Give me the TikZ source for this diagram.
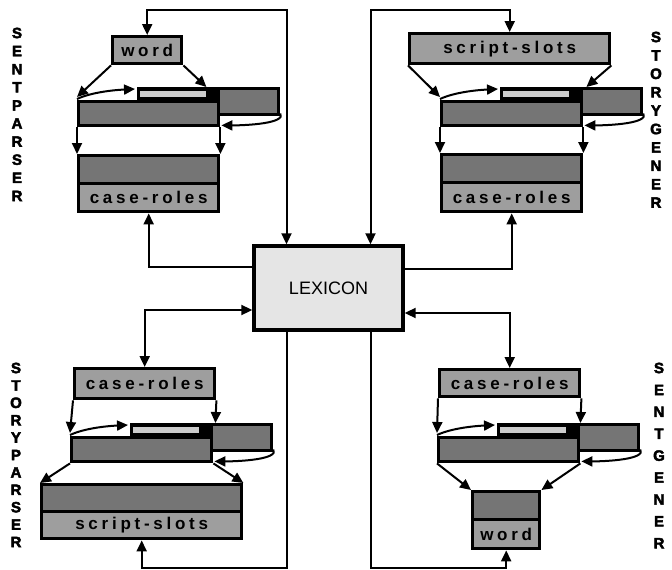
\documentclass[tikz,border=0pt]{standalone}
\usepackage{fontspec}
\setmainfont{Liberation Sans}
\newfontfamily\boxfont{Liberation Sans}[LetterSpace=22]
\newfontfamily\heavyfont{Liberation Sans}[FakeBold=3]
\usetikzlibrary{arrows.meta,calc}
\definecolor{shadeA}{gray}{0.46}
\definecolor{shadeB}{gray}{0.62}
\definecolor{lexfill}{gray}{0.9}
\definecolor{dotfill}{gray}{0.8}
\tikzset{
  blk/.style={draw, line width=3.4pt, inner sep=0pt, anchor=north west, fill=shadeA},
  txtbox/.style={blk, fill=shadeB, font=\boxfont\bfseries\fontsize{17}{17}\selectfont},
  dotbox/.style={inner sep=0pt, anchor=north west, fill=dotfill},
  conn/.style={line width=2pt},
  lbl/.style={font=\heavyfont\bfseries\fontsize{15}{15}\selectfont, inner sep=0pt},
  lexbox/.style={draw, line width=3.4pt, fill=lexfill, inner sep=0pt, font=\fontsize{18}{18}\selectfont},
  >={Triangle[length=11pt,width=10pt]}
}
% hidden-layer row: prefix, x, y (top-left)
\newcommand\hidrow[3]{%
  \node[blk, fill=black, minimum width=80pt, minimum height=13pt] (#1strip) at (#2+60,#3) {};
  \node[dotbox, minimum width=66pt, minimum height=6pt] (#1dots) at (#2+63,#3+3.5) {};
  \node[blk, minimum width=140pt, minimum height=24pt] (#1hid) at (#2,#3+13) {};
  \node[blk, minimum width=60pt, minimum height=26pt] (#1ctx) at (#2+140,#3) {};
  \draw[conn,->] ($(#1hid.north west)+(0,-1)$) .. controls +(15,-7) and +(-20,1) .. ($(#1strip.north west)+(-2,2)$);
  \draw[conn,->] ($(#1ctx.south east)+(0,-3)$) .. controls +(6,10) and +(25,0) .. ($(#1hid.south east)+(1,-2)$);
}
\begin{document}
\begin{tikzpicture}[x=1pt,y=-1pt]
\useasboundingbox (0,0) rectangle (672,570);

% ---------- LEXICON ----------
\node[lexbox, minimum width=149pt, minimum height=84pt] (lex) at (328.5,288) {LEXICON};

% ---------- SENT PARSER (top left) ----------
\node[txtbox, minimum width=69pt, minimum height=27pt] (spin) at (111,35) {word};
\hidrow{sp}{77}{87}
\node[blk, minimum width=140pt, minimum height=28pt] (spoutA) at (77,154) {};
\node[txtbox, minimum width=140pt, minimum height=28pt] (spoutB) at (77,182) {case-roles};
\draw[conn,->] (spin.south west) -- ($(sphid.north west)+(0,-3)$);
\draw[conn,->] (spin.south east) -- ($(spstrip.north east)+(-14,0)$);
\draw[conn,->] (sphid.south west) -- (spoutA.north west);
\draw[conn,->] (sphid.south east) -- (spoutA.north east);

% ---------- STORY GENER (top right) ----------
\node[txtbox, minimum width=200pt, minimum height=30pt] (sgin) at (408,32) {script-slots};
\hidrow{sg}{440}{87}
\node[blk, minimum width=140pt, minimum height=28pt] (sgoutA) at (440,153) {};
\node[txtbox, minimum width=140pt, minimum height=29pt] (sgoutB) at (440,181) {case-roles};
\draw[conn,->] (sgin.south west) -- ($(sghid.north west)+(0,-3)$);
\draw[conn,->] (sgin.south east) -- ($(sgstrip.north east)+(3,0)$);
\draw[conn,->] (sghid.south west) -- (sgoutA.north west);
\draw[conn,->] (sghid.south east) -- (sgoutA.north east);

% ---------- STORY PARSER (bottom left) ----------
\node[txtbox, minimum width=140pt, minimum height=30pt] (stpin) at (73,367) {case-roles};
\hidrow{stp}{70}{423}
\node[blk, minimum width=200pt, minimum height=27pt] (stpoutA) at (40,483) {};
\node[txtbox, minimum width=200pt, minimum height=27pt] (stpoutB) at (40,510) {script-slots};
\draw[conn,->] (stpin.south west) -- ($(stphid.north west)+(0,-3)$);
\draw[conn,->] (stpin.south east) -- ($(stpstrip.north east)+(2,0)$);
\draw[conn,->] (stphid.south west) -- (stpoutA.north west);
\draw[conn,->] (stphid.south east) -- (stpoutA.north east);

% ---------- SENT GENER (bottom right) ----------
\node[txtbox, minimum width=140pt, minimum height=27pt] (sgnin) at (438,368) {case-roles};
\hidrow{sgn}{437}{423}
\node[blk, minimum width=67pt, minimum height=28pt] (sgnoutA) at (471,490) {};
\node[txtbox, minimum width=67pt, minimum height=29pt] (sgnoutB) at (471,518) {word};
\draw[conn,->] (sgnin.south west) -- ($(sgnhid.north west)+(0,-3)$);
\draw[conn,->] (sgnin.south east) -- (sgnstrip.north east);
\draw[conn,->] (sgnhid.south west) -- (sgnoutA.north west);
\draw[conn,->] (sgnhid.south east) -- (sgnoutA.north east);

% ---------- connections to the LEXICON ----------
\coordinate (ytop) at (0,10);
\coordinate (ybot) at (0,568);
\coordinate (lt) at ($(lex.north)+(-42,0)$);
\coordinate (rt) at ($(lex.north)+(42,0)$);
\coordinate (lb) at ($(lex.south)+(-42,0)$);
\coordinate (rb) at ($(lex.south)+(42,0)$);
\draw[conn,<->] (spin.north) |- (lt |- ytop) -- (lt);
\draw[conn,<->] (sgin.north) |- (rt |- ytop) -- (rt);
\draw[conn,->] ($(lex.west)+(0,-21)$) -| (spoutB.south);
\draw[conn,->] ($(lex.east)+(0,-19)$) -| (sgoutB.south);
\draw[conn,<->] ($(lex.west)+(0,22)$) -| (stpin.north);
\draw[conn,<->] ($(lex.east)+(0,25)$) -| (sgnin.north);
\draw[conn,->] (lb) -- (lb |- ybot) -| (stpoutB.south);
\draw[conn,->] (rb) -- (rb |- ybot) -| (sgnoutB.south);

% ---------- vertical labels ----------
\foreach \ch [count=\i] in {S,E,N,T,P,A,R,S,E,R}
  \node[lbl] (spl\i) at (17,{33+18.1*(\i-1)}) {\ch};
\foreach \ch [count=\i] in {S,T,O,R,Y,G,E,N,E,R}
  \node[lbl] (sgl\i) at (656,{37+18.4*(\i-1)}) {\ch};
\foreach \ch [count=\i] in {S,T,O,R,Y,P,A,R,S,E,R}
  \node[lbl] (stpl\i) at (16,{368+17.4*(\i-1)}) {\ch};
\foreach \ch [count=\i] in {S,E,N,T,G,E,N,E,R}
  \node[lbl] (sgnl\i) at (659,{368+21.9*(\i-1)}) {\ch};
\end{tikzpicture}
\end{document}
